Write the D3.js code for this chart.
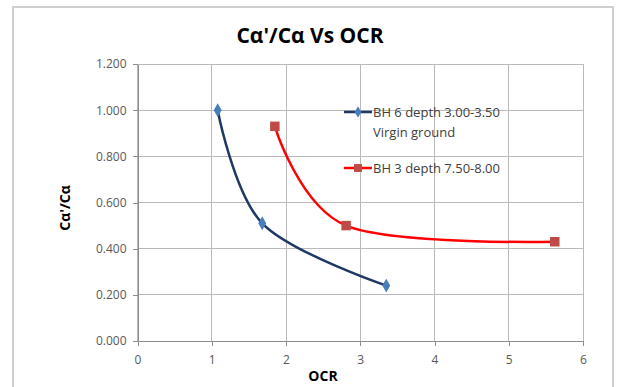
<!DOCTYPE html>
<html>
<head>
<meta charset="utf-8">
<script src="https://cdn.jsdelivr.net/npm/d3@7"></script>
<style>
  body { margin: 0; background: #fff; }
  text { font-family: 'Open Sans', sans-serif; }
</style>
</head>
<body>
<svg id="chart" width="617" height="387"></svg>
<script>
'use strict';
// data
var blueOcr = [1.08, 1.68, 3.35],
    blueRatio = [1.00, 0.51, 0.24],
    redOcr = [1.85, 2.81, 5.62],
    redRatio = [0.93, 0.50, 0.43],
    xTicks = [0, 1, 2, 3, 4, 5, 6],
    yTicks = [0, 0.2, 0.4, 0.6, 0.8, 1.0, 1.2],
    seriesNames = [['BH 6 depth 3.00-3.50', 'Virgin ground'], ['BH 3 depth 7.50-8.00']];

var series = [
  {pts: blueOcr.map((v, i) => [v, blueRatio[i]]), line: '#1F3864', mark: '#4A7EBB', shape: d3.symbolDiamond, size: 55},
  {pts: redOcr.map((v, i) => [v, redRatio[i]]), line: '#FF0000', mark: '#BE4B48', shape: d3.symbolSquare, size: 90}
];

var svg = d3.select('#chart');

// outer frame
svg.append('rect').attr('x', 13).attr('y', 7).attr('width', 600).attr('height', 390)
   .attr('fill', '#fff').attr('stroke', '#cfcfcf').attr('stroke-width', 2);

var x = d3.scaleLinear().domain([0, 6]).range([137.5, 583]),
    y = d3.scaleLinear().domain([0, 1.2]).range([341, 64]);

// grid
svg.append('g').selectAll('line.h').data(yTicks).enter().append('line')
   .attr('x1', x(0)).attr('x2', x(6)).attr('y1', d => y(d)).attr('y2', d => y(d))
   .attr('stroke', '#b9b9b9').attr('stroke-width', 1).attr('shape-rendering', 'crispEdges');
svg.append('g').selectAll('line.v').data(xTicks).enter().append('line')
   .attr('y1', y(0)).attr('y2', y(1.2)).attr('x1', d => x(d)).attr('x2', d => x(d))
   .attr('stroke', '#b9b9b9').attr('stroke-width', 1).attr('shape-rendering', 'crispEdges');

// axes
var yAxis = svg.append('g').attr('transform', 'translate(' + x(0) + ',0)')
   .call(d3.axisLeft(y).tickValues(yTicks).tickFormat(d3.format('.3f')).tickSizeInner(5).tickSizeOuter(0).tickPadding(6));
var xAxis = svg.append('g').attr('transform', 'translate(0,' + y(0) + ')')
   .call(d3.axisBottom(x).tickValues(xTicks).tickFormat(d3.format('d')).tickSizeInner(5).tickSizeOuter(0).tickPadding(9));
[yAxis, xAxis].forEach(function(a){
  a.select('.domain').attr('stroke', '#8c8c8c').attr('shape-rendering', 'crispEdges');
  a.selectAll('.tick line').attr('stroke', '#8c8c8c').attr('shape-rendering', 'crispEdges');
  a.selectAll('.tick text').attr('fill', '#595959').style('font-size', '12px').style('font-family', "'Open Sans', sans-serif");
});

// lines, smoothed like the spreadsheet
var line = d3.line().x(d => x(d[0])).y(d => y(d[1])).curve(d3.curveCardinal.tension(0));
series.forEach(function(s){
  svg.append('path').attr('d', line(s.pts)).attr('fill', 'none')
     .attr('stroke', s.line).attr('stroke-width', 2.5);
  svg.append('g').selectAll('path').data(s.pts).enter().append('path')
     .attr('d', d3.symbol().type(s.shape).size(s.size))
     .attr('transform', d => 'translate(' + x(d[0]) + ',' + y(d[1]) + ')')
     .attr('fill', s.mark);
});

// legend
var legY = [112, 168];
series.forEach(function(s, i){
  var g = svg.append('g').attr('transform', 'translate(344,' + legY[i] + ')');
  g.append('line').attr('x1', 0).attr('x2', 28).attr('stroke', s.line).attr('stroke-width', 2.5);
  g.append('path').attr('d', d3.symbol().type(s.shape).size(s.size * 0.7))
   .attr('transform', 'translate(14,0)').attr('fill', s.mark);
  seriesNames[i].forEach(function(t, j){
    g.append('text').attr('x', 29).attr('y', 5 + j * 20).text(t)
     .style('font-size', '13px').attr('fill', '#404040');
  });
});

// titles
svg.append('text').attr('x', 310).attr('y', 43).attr('text-anchor', 'middle')
   .style('font-size', '21px').style('font-weight', 'bold').attr('fill', '#000').text("C\u03b1'/C\u03b1 Vs OCR");
svg.append('text').attr('transform', 'translate(70,208) rotate(-90)').attr('text-anchor', 'middle')
   .style('font-size', '14px').style('font-weight', 'bold').attr('fill', '#000').text("C\u03b1'/C\u03b1");
svg.append('text').attr('x', 323).attr('y', 381).attr('text-anchor', 'middle')
   .style('font-size', '14px').style('font-weight', 'bold').attr('fill', '#000').text('OCR');
</script>
</body>
</html>
